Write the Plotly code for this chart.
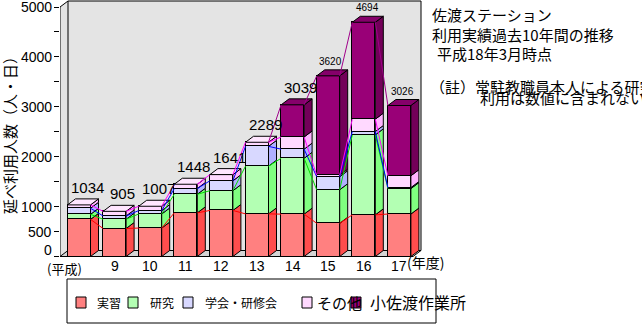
import plotly.graph_objects as go

# ---- data -------------------------------------------------------------
years = ["(平成)", "9", "10", "11", "12", "13", "14", "15", "16", "17"]
jisshu = [744, 561, 570, 875, 923, 854, 849, 666, 835, 851]       # 実習
kenkyu = [101, 185, 282, 372, 396, 956, 1119, 672, 1603, 510]     # 研究
gakkai = [122, 66, 68, 115, 198, 397, 183, 261, 67, 20]           # 学会・研修会
sonota = [67, 93, 87, 86, 124, 82, 244, 30, 247, 237]             # その他
kosado = [0, 0, 0, 0, 0, 0, 644, 1991, 1942, 1408]                # 小佐渡作業所
series_names = ["実習", "研究", "学会・研修会", "その他", "小佐渡作業所"]
y_tick_vals = [0, 500, 1000, 1500, 2000, 2500, 3000, 3500, 4000, 4500, 5000]
y_tick_text = ["0", "500", "1000", "", "2000", "", "3000", "", "4000", "", "5000"]

# ---- styling ------------------------------------------------------------
front = ["#ff8080", "#b3ffb3", "#d8d8ff", "#ffd9ff", "#990077"]
side = ["#ff4d4d", "#80ff80", "#b0b0ff", "#ffb3ff", "#730059"]
top_c = ["#ffb3b3", "#ccffcc", "#e6e6ff", "#ffe6ff", "#85006a"]
line_c = ["#ff0000", "#00e000", "#0000ff", "#ff00ff", "#a0008a"]
label_size = [15, 15, 15, 15, 15, 15, 15, 10, 10, 10]
label_dx = [1.0, 1.0, 1.0, 1.0, 1.0, 1.0, 1.0, 0.3, 0.5, 0.4]
JP = "Noto Sans CJK JP"
NUM = "Liberation Sans, Arial"

W, H = 642, 326
L, R, T, B = 60, 424, 0, 258          # plot area in pixels
PX_X, X0 = 35.6, 79.0                 # pixels per category, pixel of first category
PX_V, V0 = 0.0499, 256.5              # pixels per unit value, pixel of zero
x_min, x_max = (L - X0) / PX_X, (R - X0) / PX_X
v_min, v_max = (V0 - B) / PX_V, (V0 - T) / PX_V
DX, DY = 8 / PX_X, 6 / PX_V           # depth of the 3-D extrusion
HW = 11.5 / PX_X                      # half bar width
X_R = (421 - X0) / PX_X               # right edge of back wall


def fx(px):
    return (px - L) / (R - L)


def fy(py):
    return (B - py) / (B - T)


stacks = [jisshu, kenkyu, gakkai, sonota, kosado]
n = len(years)
xs = list(range(n))
bases = []
acc = [0] * n
for vals in stacks:
    bases.append(acc[:])
    acc = [a + v for a, v in zip(acc, vals)]
totals = acc

fig = go.Figure()

# front faces
for k, vals in enumerate(stacks):
    fig.add_trace(go.Bar(
        x=xs, y=vals, base=bases[k], width=2 * HW, name=series_names[k],
        marker=dict(color=front[k], line=dict(color="black", width=1)),
        showlegend=False, hoverinfo="skip"))

# side faces and top faces
for k, vals in enumerate(stacks):
    sx, sy = [], []
    for i in xs:
        if vals[i] <= 0:
            continue
        b, t = bases[k][i], bases[k][i] + vals[i]
        xr = i + HW
        sx += [xr, xr + DX, xr + DX, xr, xr, None]
        sy += [b, b + DY, t + DY, t, b, None]
    fig.add_trace(go.Scatter(x=sx, y=sy, mode="lines", fill="toself",
                             fillcolor=side[k], line=dict(color="black", width=1),
                             showlegend=False, hoverinfo="skip"))
    tx, ty = [], []
    for i in xs:
        if vals[i] <= 0:
            continue
        t = bases[k][i] + vals[i]
        if abs(t - totals[i]) > 1e-9:
            continue
        tx += [i - HW, i - HW + DX, i + HW + DX, i + HW, i - HW, None]
        ty += [t, t + DY, t + DY, t, t, None]
    if tx:
        fig.add_trace(go.Scatter(x=tx, y=ty, mode="lines", fill="toself",
                                 fillcolor=top_c[k], line=dict(color="black", width=1),
                                 showlegend=False, hoverinfo="skip"))

# series lines joining segment tops of neighbouring bars
for k, vals in enumerate(stacks):
    lx, ly = [], []
    for i in range(n - 1):
        if vals[i] <= 0 and vals[i + 1] <= 0:
            continue
        lx += [i + HW, i + 1 - HW, None]
        ly += [bases[k][i] + vals[i], bases[k][i + 1] + vals[i + 1], None]
    fig.add_trace(go.Scatter(x=lx, y=ly, mode="lines",
                             line=dict(color=line_c[k], width=1),
                             showlegend=False, hoverinfo="skip"))

# total labels
for i in xs:
    fig.add_annotation(x=i + DX * label_dx[i], y=totals[i] + DY, text=str(totals[i]),
                       showarrow=False, xanchor="center", yanchor="bottom", yshift=1,
                       font=dict(family=NUM, size=label_size[i], color="black"))

# value-axis tick labels (the zero label sits a little higher, clear of the floor)
for v, txt in zip(y_tick_vals, y_tick_text):
    if not txt:
        continue
    fig.add_annotation(xref="paper", yref="y", x=fx(53), y=v, text=txt,
                       showarrow=False, xanchor="right", yanchor="middle",
                       yshift=7 if v == 0 else 0, borderpad=0,
                       font=dict(family=NUM, size=14, color="black"))

# category labels under the bars
for i in xs[1:]:
    fig.add_annotation(x=i, xref="x", yref="paper", y=fy(266), text=years[i],
                       showarrow=False, xanchor="center", yanchor="middle",
                       font=dict(family=NUM, size=14, color="black"))
fig.add_annotation(xref="paper", yref="paper", x=fx(64), y=fy(268), text=years[0],
                   showarrow=False, xanchor="center", yanchor="middle", borderpad=0,
                   font=dict(family=JP, size=13, color="black"))
fig.add_annotation(xref="paper", yref="paper", x=fx(405), y=fy(262), text="(年度)",
                   showarrow=False, xanchor="left", yanchor="middle",
                   font=dict(family=JP, size=14, color="black"))

# walls, floor and frame of the 3-D box
shapes = []
wall = "#e4e4e4"
shapes.append(dict(type="rect", xref="x", yref="y", x0=x_min + DX, x1=X_R,
                   y0=DY, y1=5000 + DY, fillcolor=wall, line=dict(width=0), layer="below"))
shapes.append(dict(type="path", xref="x", yref="y",
                   path=f"M{x_min},0 L{x_min},5000 L{x_min + DX},{5000 + DY} L{x_min + DX},{DY} Z",
                   fillcolor=wall, line=dict(width=0), layer="below"))
shapes.append(dict(type="path", xref="x", yref="y",
                   path=f"M{x_min},0 L{X_R - DX},0 L{X_R},{DY} L{x_min + DX},{DY} Z",
                   fillcolor="#d4d4d4", line=dict(width=0), layer="below"))
edges = [
    (x_min, 0, x_min, 5000),
    (x_min, 5000, x_min + DX, 5000 + DY),
    (x_min + DX, 5000 + DY, X_R, 5000 + DY),
    (x_min + DX, DY, x_min + DX, 5000 + DY),
    (X_R, DY, X_R, 5000 + DY),
    (x_min, 0, X_R - DX, 0),
    (x_min, 0, x_min + DX, DY),
    (x_min + DX, DY, X_R, DY),
    (X_R - DX, 0, X_R, DY),
]
for x0, y0, x1, y1 in edges:
    shapes.append(dict(type="line", xref="x", yref="y", x0=x0, y0=y0, x1=x1, y1=y1,
                       line=dict(color="black", width=1), layer="below"))

# legend drawn by hand
shapes.append(dict(type="rect", xref="paper", yref="paper", x0=fx(67), x1=fx(436),
                   y0=fy(323), y1=fy(279), fillcolor="white",
                   line=dict(color="black", width=1)))
leg_sq = [76, 128, 183, 302, 351]
leg_tx = [95, 148, 203, 315, 368]
leg_fs = [12, 12, 12, 15, 16]
for k in range(5):
    shapes.append(dict(type="rect", xref="paper", yref="paper",
                       x0=fx(leg_sq[k]), x1=fx(leg_sq[k] + 10), y0=fy(308), y1=fy(297),
                       fillcolor=front[k], line=dict(color="black", width=1)))
    fig.add_annotation(xref="paper", yref="paper", x=fx(leg_tx[k]), y=fy(302),
                       text=series_names[k], showarrow=False, xanchor="left",
                       yanchor="middle", font=dict(family=JP, size=leg_fs[k], color="black"))

# value-axis caption
fig.add_annotation(xref="paper", yref="paper", x=fx(9), y=fy(132),
                   text="延べ利用人数（人・日）", textangle=-90, showarrow=False,
                   xanchor="center", yanchor="middle",
                   font=dict(family=JP, size=15, color="black"))

# title block on the right
title_lines = [
    (430, 15, "佐渡ステーション"),
    (430, 34, "利用実績過去10年間の推移"),
    (435, 53, "平成18年3月時点"),
    (428, 86, "（註）常駐教職員本人による研究"),
    (478, 97, "利用は数値に含まれない"),
]
for px, py, txt in title_lines:
    fig.add_annotation(xref="paper", yref="paper", x=fx(px), y=fy(py), text=txt,
                       showarrow=False, xanchor="left", yanchor="middle",
                       font=dict(family=JP, size=15, color="black"))

fig.update_layout(
    width=W, height=H, margin=dict(l=L, r=W - R, t=T, b=H - B),
    paper_bgcolor="white", plot_bgcolor="rgba(0,0,0,0)",
    barmode="stack", bargap=0, showlegend=False, shapes=shapes,
    xaxis=dict(range=[x_min, x_max], showticklabels=False,
               showgrid=False, zeroline=False, showline=False, ticks="",
               fixedrange=True),
    yaxis=dict(range=[v_min, v_max], tickvals=y_tick_vals, showticklabels=False,
               showgrid=False, zeroline=False, showline=False, ticks="outside",
               ticklen=5, tickcolor="black", tickwidth=1, fixedrange=True),
)

fig.write_html("out.html")
